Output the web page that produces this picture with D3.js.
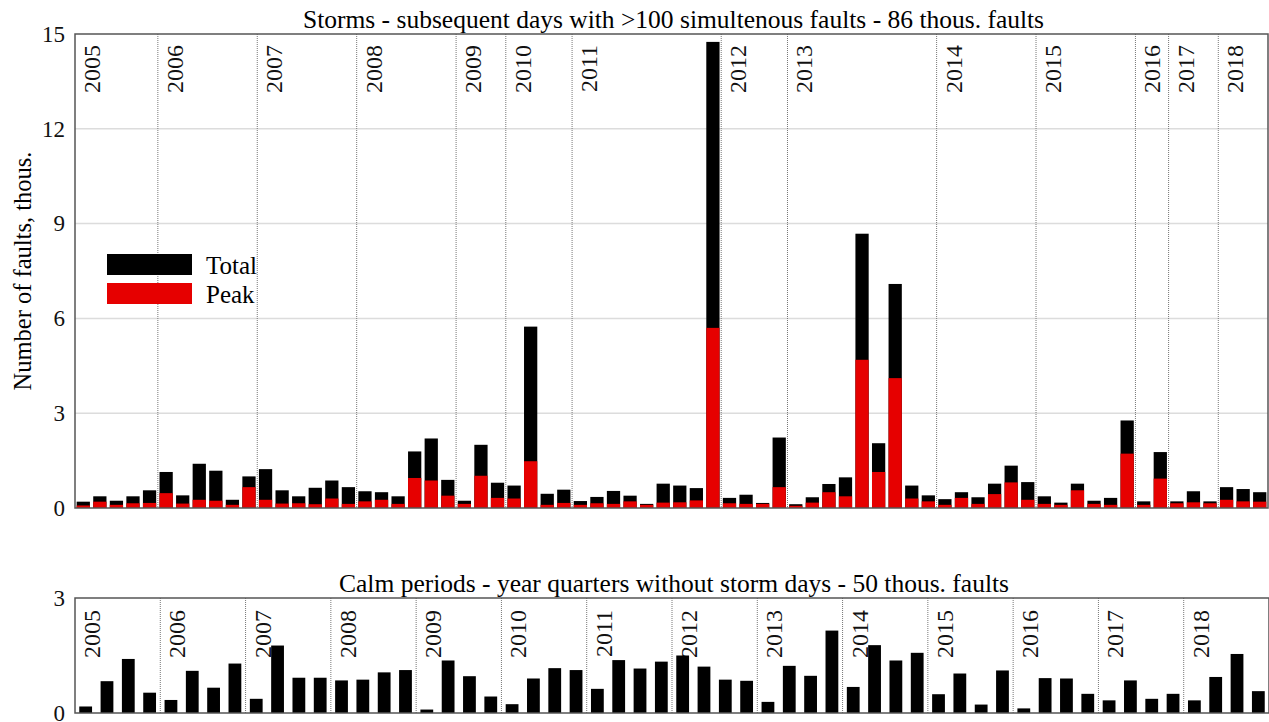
<!DOCTYPE html>
<html>
<head>
<meta charset="utf-8">
<script src="https://cdn.jsdelivr.net/npm/d3@7"></script>
<style>
  body { margin: 0; background: #fff; }
  svg { display: block; font-family: "Liberation Serif", "Times New Roman", serif; }
</style>
</head>
<body>
<div id="chart"></div>
<script>

// storm events, grouped by year
var stormYears = ['2005','2006','2007','2008','2009','2010','2011','2012','2013','2014','2015','2016','2017','2018'];
var stormCounts = [5, 6, 6, 6, 3, 4, 9, 4, 9, 6, 6, 2, 3, 3];

var stormTotal = [
  0.20, 0.37, 0.23, 0.37, 0.56,
  1.14, 0.40, 1.40, 1.18, 0.26, 1.00,
  1.23, 0.56, 0.37, 0.64, 0.87, 0.66,
  0.53, 0.50, 0.37, 1.79, 2.20, 0.89,
  0.23, 2.00, 0.80,
  0.71, 5.74, 0.45, 0.58,
  0.22, 0.35, 0.54, 0.39, 0.13, 0.77, 0.71, 0.63, 14.75,
  0.32, 0.42, 0.16, 2.23,
  0.12, 0.34, 0.76, 0.97, 8.68, 2.05, 7.09, 0.71, 0.40,
  0.28, 0.50, 0.34, 0.77, 1.34, 0.82,
  0.37, 0.17, 0.77, 0.23, 0.32, 2.77,
  0.21, 1.77,
  0.21, 0.53, 0.21,
  0.66, 0.60, 0.50
];

var stormPeak = [
  0.08, 0.20, 0.10, 0.15, 0.16,
  0.47, 0.14, 0.26, 0.23, 0.10, 0.66,
  0.26, 0.14, 0.15, 0.12, 0.30, 0.13,
  0.21, 0.26, 0.13, 0.95, 0.87, 0.39,
  0.13, 1.02, 0.32,
  0.30, 1.48, 0.10, 0.16,
  0.10, 0.15, 0.13, 0.21, 0.10, 0.17, 0.18, 0.24, 5.70,
  0.15, 0.13, 0.13, 0.66,
  0.07, 0.17, 0.50, 0.37, 4.69, 1.14, 4.11, 0.30, 0.21,
  0.10, 0.32, 0.13, 0.44, 0.81, 0.26,
  0.13, 0.10, 0.56, 0.13, 0.10, 1.72,
  0.10, 0.93,
  0.15, 0.18, 0.15,
  0.26, 0.21, 0.20
];

// calm quarters, 4 per year
var calmYears = stormYears;
var calmQuarters = ['Q1','Q2','Q3','Q4'];
var calmTotal = [
  0.17, 0.83, 1.41, 0.53,
  0.34, 1.10, 0.66, 1.29,
  0.37, 1.76, 0.92, 0.92,
  0.85, 0.87, 1.06, 1.12,
  0.09, 1.37, 0.96, 0.43,
  0.23, 0.90, 1.17, 1.12,
  0.63, 1.38, 1.16, 1.34,
  1.50, 1.21, 0.87, 0.84,
  0.29, 1.23, 0.97, 2.15,
  0.68, 1.77, 1.37, 1.57,
  0.49, 1.03, 0.22, 1.11,
  0.12, 0.91, 0.90, 0.50,
  0.33, 0.85, 0.37, 0.50,
  0.33, 0.94, 1.54, 0.57
];

var stormTicks = [0, 3, 6, 9, 12, 15];
var calmTicks = [0, 3];

var W = 1269, H = 722;
var RED = '#e60000';

var svg = d3.select('#chart').append('svg')
  .attr('width', W)
  .attr('height', H);

// build year/period rows for both panels
var stormRows = [];
stormYears.forEach(function(y, yi) {
  for (var k = 0; k < stormCounts[yi]; k++) {
    stormRows.push({ year: y, first: k === 0 });
  }
});
stormRows.forEach(function(r, i) {
  r.id = i;
  r.total = stormTotal[i];
  r.peak = stormPeak[i];
});

var calmRows = [];
calmYears.forEach(function(y) {
  calmQuarters.forEach(function(q, k) {
    calmRows.push({ year: y, first: k === 0 });
  });
});
calmRows.forEach(function(r, i) {
  r.id = i;
  r.total = calmTotal[i];
});

function panel(opts) {

  var x = d3.scaleBand()
    .domain(opts.rows.map(function(d) { return d.id; }))
    .range([opts.left, opts.right])
    .paddingInner(opts.pad)
    .paddingOuter(opts.pad / 2);

  var y = d3.scaleLinear()
    .domain([0, opts.max])
    .range([opts.bottom, opts.top]);

  var g = svg.append('g');

  // title
  g.append('text')
    .attr('x', (opts.left + opts.right) / 2 + 2)
    .attr('y', opts.top - 6)
    .attr('text-anchor', 'middle')
    .attr('font-size', 25.5)
    .text(opts.title);

  // horizontal grid
  g.selectAll('.grid')
    .data(opts.grid)
    .enter().append('line')
    .attr('x1', opts.left).attr('x2', opts.right)
    .attr('y1', function(d) { return y(d); })
    .attr('y2', function(d) { return y(d); })
    .attr('stroke', '#dcdcdc')
    .attr('stroke-width', 1.5);

  // year separators
  var firsts = opts.rows.filter(function(d) { return d.first; });

  g.selectAll('.sep')
    .data(firsts.slice(1))
    .enter().append('line')
    .attr('x1', function(d) { return x(d.id) - x.step() * opts.pad / 2; })
    .attr('x2', function(d) { return x(d.id) - x.step() * opts.pad / 2; })
    .attr('y1', opts.top)
    .attr('y2', opts.bottom)
    .attr('stroke', '#777')
    .attr('stroke-width', 1)
    .attr('stroke-dasharray', '1,1');

  // year labels
  g.selectAll('.yr')
    .data(firsts)
    .enter().append('text')
    .attr('transform', function(d) {
      var xx = x(d.id) - x.step() * opts.pad / 2 + opts.labelDx;
      return 'translate(' + xx + ',' + (opts.top + opts.labelDy) + ') rotate(-90)';
    })
    .attr('text-anchor', 'end')
    .attr('font-size', 24)
    .attr('fill', '#111')
    .text(function(d) { return d.year; });

  // bars
  var bars = g.selectAll('.bar')
    .data(opts.rows)
    .enter();

  bars.append('rect')
    .attr('x', function(d) { return x(d.id); })
    .attr('width', x.bandwidth())
    .attr('y', function(d) { return y(d.total); })
    .attr('height', function(d) { return opts.bottom - y(d.total); })
    .attr('fill', '#000');

  if (opts.peak) {
    bars.append('rect')
      .attr('x', function(d) { return x(d.id); })
      .attr('width', x.bandwidth())
      .attr('y', function(d) { return y(d.peak); })
      .attr('height', function(d) { return opts.bottom - y(d.peak); })
      .attr('fill', RED);
  }

  // frame
  g.append('rect')
    .attr('x', opts.left)
    .attr('y', opts.top)
    .attr('width', opts.right - opts.left)
    .attr('height', opts.bottom - opts.top)
    .attr('fill', 'none')
    .attr('stroke', '#555')
    .attr('stroke-width', 1.5);

  // y axis labels
  var ax = d3.axisLeft(y)
    .tickValues(opts.ticks)
    .tickFormat(d3.format('d'))
    .tickSize(0)
    .tickPadding(10);
  var axg = g.append('g')
    .attr('transform', 'translate(' + opts.left + ',0)')
    .call(ax);
  axg.select('.domain').remove();
  axg.selectAll('text')
    .attr('font-family', '"Liberation Serif", "Times New Roman", serif')
    .attr('font-size', 23)
    .attr('fill', '#111');

  return { x: x, y: y, g: g };

}

panel({
  rows: stormRows,
  left: 75, right: 1268, top: 34, bottom: 508,
  max: 15, ticks: stormTicks, grid: [3, 6, 9, 12],
  pad: 0.2, peak: true,
  labelDx: 25, labelDy: 11,
  title: 'Storms - subsequent days with >100 simultenous faults - 86 thous. faults'
});

panel({
  rows: calmRows,
  left: 75, right: 1269, top: 598, bottom: 713,
  max: 3, ticks: calmTicks, grid: [],
  pad: 0.4, peak: false,
  labelDx: 25, labelDy: 12,
  title: 'Calm periods - year quarters without storm days - 50 thous. faults'
});

// y axis title
svg.append('text')
  .attr('transform', 'translate(31,' + (34 + 508) / 2 + ') rotate(-90)')
  .attr('text-anchor', 'middle')
  .attr('font-size', 24.5)
  .text('Number of faults, thous.');

// legend
var legend = [
  { name: 'Total', color: '#000' },
  { name: 'Peak', color: RED }
];

var lg = svg.append('g').attr('transform', 'translate(107,254)');
lg.selectAll('rect')
  .data(legend)
  .enter().append('rect')
  .attr('x', 0)
  .attr('y', function(d, i) { return i * 29; })
  .attr('width', 85)
  .attr('height', 21)
  .attr('fill', function(d) { return d.color; });
lg.selectAll('text')
  .data(legend)
  .enter().append('text')
  .attr('x', 99)
  .attr('y', function(d, i) { return i * 29 + 20; })
  .attr('font-size', 25)
  .text(function(d) { return d.name; });

</script>
</body>
</html>
